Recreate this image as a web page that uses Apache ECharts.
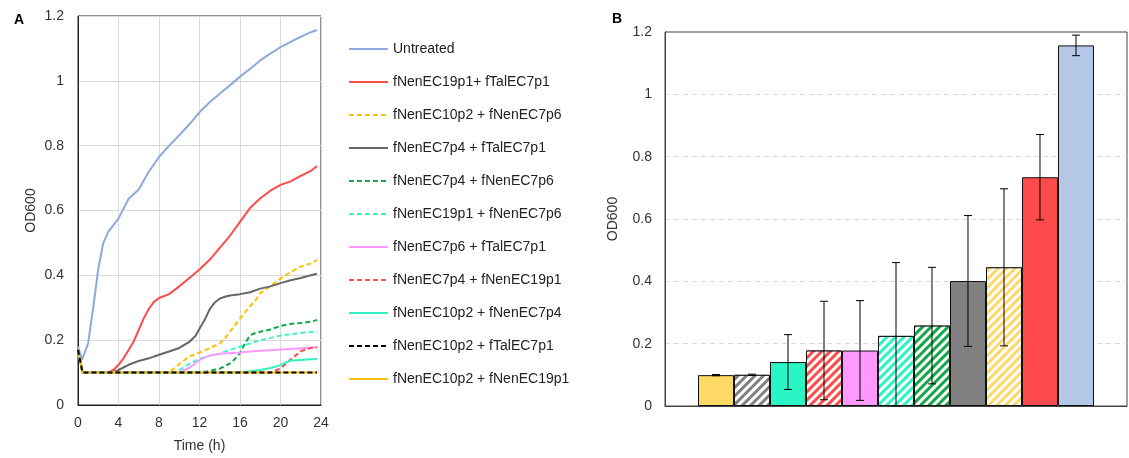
<!DOCTYPE html>
<html><head><meta charset="utf-8">
<script src="https://cdn.jsdelivr.net/npm/echarts@6/dist/echarts.min.js"></script>
<style>html,body{margin:0;padding:0;background:#fff}#c{width:1129px;height:458px}</style>
</head><body><div id="c"></div>
<script>
// ---- Panel A: growth curves (time h, OD600) ----
const seriesNames = [
  'Untreated','fNenEC19p1+ fTalEC7p1','fNenEC10p2 + fNenEC7p6','fNenEC7p4 + fTalEC7p1',
  'fNenEC7p4 + fNenEC7p6','fNenEC19p1 + fNenEC7p6','fNenEC7p6 + fTalEC7p1','fNenEC7p4 + fNenEC19p1',
  'fNenEC10p2 + fNenEC7p4','fNenEC10p2 + fTalEC7p1','fNenEC10p2 + fNenEC19p1'
];
const untreated = [[0,0.18],[0.4,0.14],[1,0.19],[1.5,0.3],[2,0.42],[2.5,0.5],[3,0.535],[3.5,0.555],[4,0.575],[5,0.636],[6,0.665],[7,0.72],[8,0.765],[9,0.8],[10,0.832],[11,0.866],[12,0.903],[13,0.934],[14,0.96],[15,0.986],[16,1.013],[17,1.037],[18,1.063],[19,1.084],[20,1.104],[21,1.12],[22,1.136],[23,1.15],[23.6,1.157]];
const ec19_tal7 = [[0,0.17],[0.45,0.1],[3,0.101],[3.5,0.108],[4,0.124],[4.5,0.144],[5,0.17],[5.5,0.196],[6,0.232],[6.5,0.268],[7,0.297],[7.5,0.318],[8,0.33],[9,0.342],[10,0.366],[11,0.392],[12,0.418],[13,0.448],[14,0.485],[15,0.522],[16,0.565],[17,0.608],[18,0.638],[19,0.661],[20,0.679],[21,0.69],[22,0.707],[23,0.722],[23.6,0.737]];
const ec10_ec7p6 = [[0,0.17],[0.45,0.1],[9,0.1],[9.5,0.113],[10,0.126],[11,0.15],[12,0.162],[13,0.175],[14,0.19],[14.5,0.205],[15,0.226],[16,0.267],[17,0.305],[17.5,0.322],[18,0.345],[19,0.367],[20,0.39],[21,0.41],[22,0.427],[23,0.437],[23.6,0.448]];
const ec7p4_tal7 = [[0,0.17],[0.45,0.1],[3.5,0.101],[4,0.108],[5,0.124],[6,0.136],[7,0.144],[8,0.155],[9,0.165],[10,0.176],[11,0.195],[11.6,0.213],[12,0.235],[12.5,0.262],[13,0.295],[13.5,0.316],[14,0.328],[14.5,0.334],[15,0.338],[16,0.342],[17,0.348],[18,0.359],[19,0.366],[20,0.376],[21,0.385],[22,0.392],[23,0.4],[23.6,0.405]];
const ec7p4_ec7p6 = [[0,0.17],[0.45,0.1],[12,0.1],[13,0.105],[14,0.112],[15,0.128],[15.5,0.142],[16,0.16],[16.5,0.19],[17,0.215],[17.5,0.222],[18,0.226],[19,0.233],[20,0.244],[21,0.25],[22,0.253],[23,0.257],[23.6,0.262]];
const ec19_ec7p6 = [[0,0.17],[0.45,0.1],[9.5,0.101],[10,0.108],[11,0.127],[12,0.142],[13,0.152],[14,0.159],[15,0.17],[16,0.18],[17,0.19],[18,0.2],[19,0.207],[20,0.214],[21,0.218],[22,0.222],[23,0.225],[23.6,0.227]];
const ec7p6_tal7 = [[0,0.17],[0.45,0.1],[10,0.101],[11,0.115],[12,0.139],[13,0.153],[14,0.158],[15,0.16],[16,0.162],[17,0.165],[18,0.167],[19,0.169],[20,0.171],[21,0.173],[22,0.175],[23,0.177],[23.6,0.178]];
const ec7p4_ec19 = [[0,0.17],[0.45,0.1],[19,0.1],[20,0.113],[21,0.14],[22,0.166],[23,0.176],[23.6,0.178]];
const ec10_ec7p4 = [[0,0.17],[0.45,0.1],[16,0.1],[18,0.108],[19,0.114],[20,0.123],[20.6,0.132],[21,0.137],[22,0.139],[23,0.141],[23.6,0.142]];
const ec10_tal7 = [[0,0.17],[0.45,0.1],[23.6,0.1]];
const ec10_ec19 = [[0,0.17],[0.45,0.1],[23.6,0.1]];
const lineData = [untreated,ec19_tal7,ec10_ec7p6,ec7p4_tal7,ec7p4_ec7p6,ec19_ec7p6,ec7p6_tal7,ec7p4_ec19,ec10_ec7p4,ec10_tal7,ec10_ec19];
const lineColors = ['#8EA9DB','#FF4B4B','#FFC000','#666666','#12A84A','#3BF5C8','#FF99FF','#FF4B4B','#33F0C0','#000000','#FFC000'];
const lineDashed = [false,false,true,false,true,true,false,true,false,true,false];
const xTicksA = [0,24,4];   // min,max,interval
const yTicks = [0,1.2,0.2];

// ---- Panel B: final OD600 bars ----
const barValues = [0.099,0.100,0.141,0.178,0.178,0.225,0.258,0.401,0.445,0.734,1.157];
const barErrors = [0.002,0.002,0.088,0.158,0.160,0.235,0.187,0.210,0.252,0.137,0.033];
const barColors = ['#FFD966','#808080','#2AF5C5','#FF4B4B','#FF99FF','#2AF5C5','#12A84A','#808080','#FFD966','#FF4B4B','#B4C7E7'];
const barHatched = [false,true,false,true,false,true,true,false,true,false,false];

const font = 'Liberation Sans, Arial, sans-serif';
const axisLbl = {fontFamily:font,fontSize:14,color:'#333'};

const chart = echarts.init(document.getElementById('c'), null, {renderer:'canvas'});

const lineSeries = lineData.map((d,i)=>({
  name: seriesNames[i], type:'line', xAxisIndex:0, yAxisIndex:0,
  data:d, symbol:'none', smooth:false,
  z: (i===9 ? 5 : (i===10 ? 4 : 2)),
  lineStyle:{color:lineColors[i], width:2, type: lineDashed[i] ? [5,3] : 'solid'},
  itemStyle:{color:lineColors[i]}
}));

const barData = barValues.map((v,i)=>({
  value:[i,v],
  itemStyle: barHatched[i] ? {
    color:'#ffffff', borderColor:'#111', borderWidth:1,
    decal:{symbol:'rect', symbolSize:1, dashArrayX:[1,0], dashArrayY:[2.2,2.2], rotation:-Math.PI/4, color:barColors[i], backgroundColor:'#ffffff'}
  } : {color:barColors[i], borderColor:'#111', borderWidth:1}
}));
const errLow = barValues.map((v,i)=>Math.max(0, v-barErrors[i]));
const errHigh = barValues.map((v,i)=>v+barErrors[i]);
const errData = barValues.map((v,i)=>[i, errLow[i], errHigh[i]]);

chart.setOption({
  animation:false,
  backgroundColor:'#fff',
  title:[
    {text:'A', left:9, top:8, textStyle:{fontFamily:font,fontSize:14,fontWeight:'bold',color:'#000'}},
    {text:'B', left:607, top:7, textStyle:{fontFamily:font,fontSize:14,fontWeight:'bold',color:'#000'}}
  ],
  legend:{
    data:seriesNames, orient:'vertical', left:348, top:42, padding:0,
    itemWidth:39, itemHeight:14, itemGap:19,
    itemStyle:{opacity:0},
    textStyle:{fontFamily:font,fontSize:14,color:'#222'},
    selectedMode:false
  },
  grid:[
    {left:78, top:16, width:243, height:391, show:true, borderColor:'#222', borderWidth:1},
    {left:665, top:32, right:2, height:374, show:true, borderColor:'#444', borderWidth:1}
  ],
  xAxis:[
    {type:'value', gridIndex:0, min:xTicksA[0], max:xTicksA[1], interval:xTicksA[2],
     name:'Time (h)', nameLocation:'middle', nameGap:34, nameTextStyle:{fontFamily:font,fontSize:14,color:'#333'},
     axisLine:{onZero:false,lineStyle:{color:'#222'}}, axisTick:{show:false},
     axisLabel:Object.assign({margin:11},axisLbl),
     splitLine:{show:true,lineStyle:{color:'#d9d9d9',width:1}}},
    {type:'value', gridIndex:1, min:-1.417, max:11.417,
     axisLine:{show:true,onZero:false,lineStyle:{color:'#444'}}, axisTick:{show:false}, axisLabel:{show:false}, splitLine:{show:false}}
  ],
  yAxis:[
    {type:'value', gridIndex:0, min:yTicks[0], max:yTicks[1], interval:yTicks[2],
     name:'OD600', nameLocation:'middle', nameGap:40, nameTextStyle:{fontFamily:font,fontSize:14,color:'#333'},
     axisLine:{show:true,onZero:false,lineStyle:{color:'#222'}}, axisTick:{show:false},
     axisLabel:Object.assign({margin:14, formatter:v=>String(+v.toFixed(1))},axisLbl),
     splitLine:{show:true,lineStyle:{color:'#d9d9d9',width:1}}},
    {type:'value', gridIndex:1, min:yTicks[0], max:yTicks[1], interval:yTicks[2],
     name:'OD600', nameLocation:'middle', nameGap:45, nameTextStyle:{fontFamily:font,fontSize:14,color:'#333'},
     axisLine:{show:true,onZero:false,lineStyle:{color:'#444'}}, axisTick:{show:false},
     axisLabel:Object.assign({margin:13, formatter:v=>String(+v.toFixed(1))},axisLbl),
     splitLine:{show:true,showMaxLine:false,showMinLine:false,lineStyle:{color:'#d9d9d9',width:1,type:[5,4]}}}
  ],
  series: lineSeries.concat([
    {type:'bar', xAxisIndex:1, yAxisIndex:1, barWidth:36, data:barData, z:2},
    {type:'custom', xAxisIndex:1, yAxisIndex:1, data:errData, z:5,
     encode:{x:0, y:[1,2]},
     renderItem:function(params, api){
       const k = params.dataIndex;
       const pHi = api.coord([k, errHigh[k]]);
       const pLo = api.coord([k, errLow[k]]);
       const w = 4;
       const st = {stroke:'#000', lineWidth:1};
       return {type:'group', children:[
         {type:'line', shape:{x1:pHi[0],y1:pHi[1],x2:pLo[0],y2:pLo[1]}, style:st},
         {type:'line', shape:{x1:pHi[0]-w,y1:pHi[1],x2:pHi[0]+w,y2:pHi[1]}, style:st},
         {type:'line', shape:{x1:pLo[0]-w,y1:pLo[1],x2:pLo[0]+w,y2:pLo[1]}, style:st}
       ]};
     }}
  ])
});
</script>
</body></html>
